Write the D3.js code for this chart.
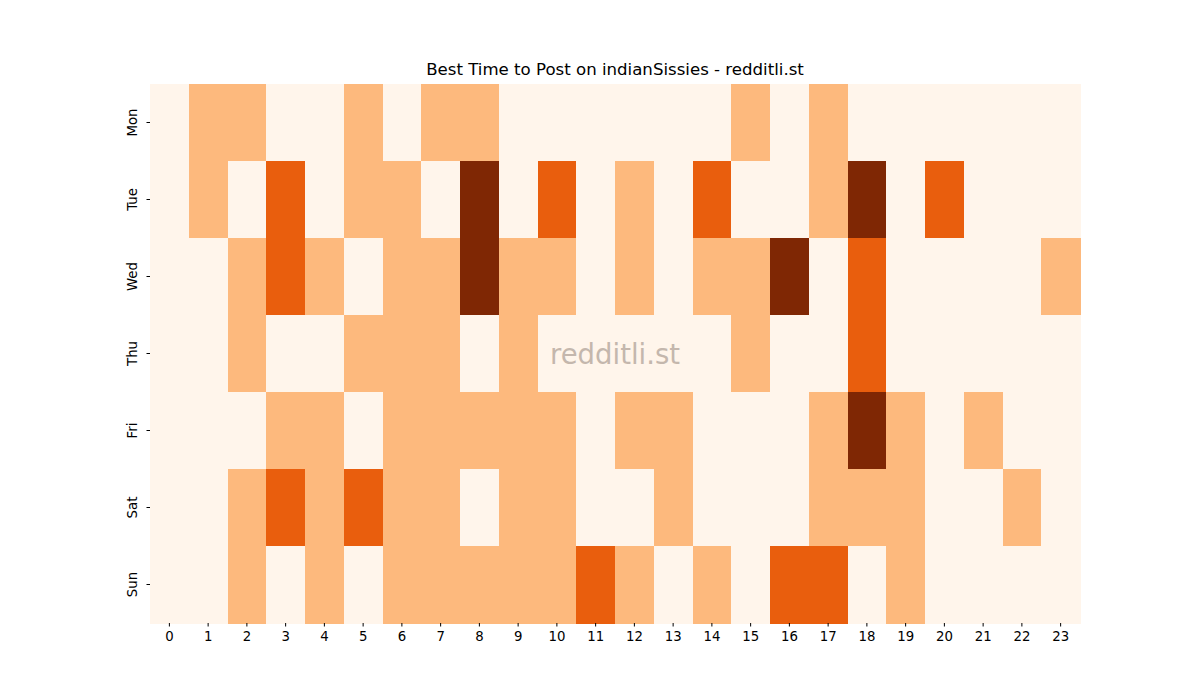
<!DOCTYPE html>
<html>
<head>
<meta charset="utf-8">
<script src="https://cdn.jsdelivr.net/npm/d3@7"></script>
<style>
  body { margin: 0; background: #fff; }
  text { font-family: "DejaVu Sans", sans-serif; }
</style>
</head>
<body>
<div id="chart"></div>
<script>
const margin = { top: 84, right: 120, bottom: 77, left: 150 };
const width = 1200 - margin.left - margin.right;
const height = 700 - margin.top - margin.bottom;

// hours and days
const hours = d3.range(24).map(String);
const days = ["Mon", "Tue", "Wed", "Thu", "Fri", "Sat", "Sun"];

// activity level per hour (0 = none, 3 = best)
const mon = [0,1,1,0,0,1,0,1,1,0,0,0,0,0,0,1,0,1,0,0,0,0,0,0];
const tue = [0,1,0,2,0,1,1,0,3,0,2,0,1,0,2,0,0,1,3,0,2,0,0,0];
const wed = [0,0,1,2,1,0,1,1,3,1,1,0,1,0,1,1,3,0,2,0,0,0,0,1];
const thu = [0,0,1,0,0,1,1,1,0,1,0,0,0,0,0,1,0,0,2,0,0,0,0,0];
const fri = [0,0,0,1,1,0,1,1,1,1,1,0,1,1,0,0,0,1,3,1,0,1,0,0];
const sat = [0,0,1,2,1,2,1,1,0,1,1,0,0,1,0,0,0,1,1,1,0,0,1,0];
const sun = [0,0,1,0,1,0,1,1,1,1,1,2,1,0,1,0,2,2,0,1,0,0,0,0];
const rows = [mon, tue, wed, thu, fri, sat, sun];

const cells = [];
rows.forEach((r, i) => r.forEach((v, j) => cells.push({ day: days[i], hour: hours[j], v })));

const svg = d3.select("#chart")
  .append("svg")
  .attr("width", 1200)
  .attr("height", 700)
  .append("g")
  .attr("transform", `translate(${margin.left},${margin.top})`);

const x = d3.scaleBand().domain(hours).range([0, width]);
const y = d3.scaleBand().domain(days).range([0, height]);
const color = d3.scaleOrdinal()
  .domain([0, 1, 2, 3])
  .range(["#fff5eb", "#fdb97d", "#e95e0d", "#7f2704"]);

svg.selectAll("rect")
  .data(cells)
  .enter().append("rect")
  .attr("x", d => x(d.hour))
  .attr("y", d => y(d.day))
  .attr("width", x.bandwidth() + 0.5)
  .attr("height", y.bandwidth() + 0.5)
  .attr("fill", d => color(d.v))
  .attr("shape-rendering", "crispEdges");

// axes
const xAxis = svg.append("g")
  .attr("transform", `translate(0,${height})`)
  .call(d3.axisBottom(x).tickSize(3.5).tickPadding(5));
xAxis.select(".domain").remove();
xAxis.attr("font-size", null);
xAxis.selectAll("text").style("font-size", "13.3px").attr("fill", "#000");

const yAxis = svg.append("g")
  .call(d3.axisLeft(y).tickSize(3.5).tickPadding(5));
yAxis.select(".domain").remove();
yAxis.attr("font-size", null);
yAxis.selectAll("text")
  .style("font-size", "13.3px")
  .attr("fill", "#000")
  .attr("text-anchor", "middle")
  .attr("x", 0)
  .attr("y", 0)
  .attr("dy", 0)
  .attr("transform", "translate(-13,0) rotate(-90)");

// title
svg.append("text")
  .attr("x", width / 2)
  .attr("y", -9)
  .attr("text-anchor", "middle")
  .style("font-size", "16.6px")
  .text("Best Time to Post on indianSissies - redditli.st");

// watermark
svg.append("text")
  .attr("x", width / 2)
  .attr("y", height / 2 + 10)
  .attr("text-anchor", "middle")
  .style("font-size", "27.5px")
  .attr("fill", "#8a7a70")
  .attr("opacity", 0.5)
  .text("redditli.st");
</script>
</body>
</html>
